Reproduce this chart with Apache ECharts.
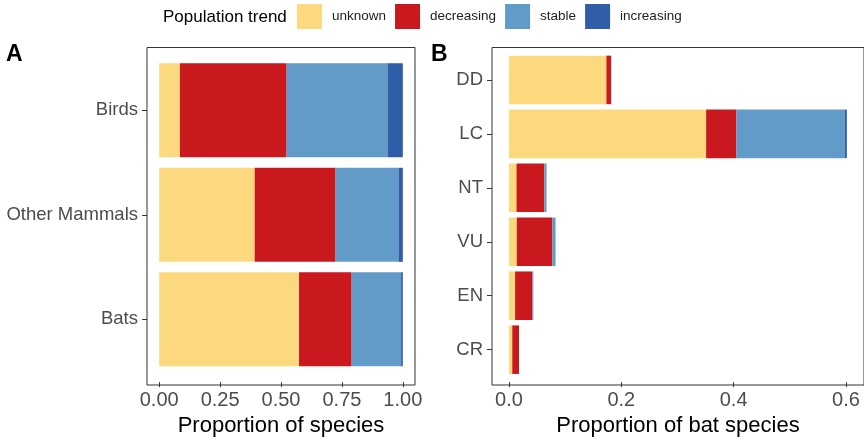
<!DOCTYPE html>
<html>
<head>
<meta charset="utf-8">
<script src="https://cdn.jsdelivr.net/npm/echarts@6/dist/echarts.min.js"></script>
<style>
  html, body { margin: 0; padding: 0; background: #fff; }
  #main { width: 864px; height: 442px; }
</style>
</head>
<body>
<div id="main"></div>
<script>
// trend classes, in stacking order
const trends = ['unknown', 'decreasing', 'stable', 'increasing'];
const trendColors = ['#FCD97F', '#C9191E', '#639BC8', '#305DA7'];

// panel A: proportion of species by group
const groups = ['Birds', 'Other Mammals', 'Bats'];
const groupUnknown    = [0.085, 0.392, 0.574];
const groupDecreasing = [0.438, 0.332, 0.216];
const groupStable     = [0.414, 0.258, 0.203];
const groupIncreasing = [0.063, 0.018, 0.007];
const ticksA = [0, 0.25, 0.5, 0.75, 1];

// panel B: proportion of bat species by IUCN category
const redList = ['DD', 'LC', 'NT', 'VU', 'EN', 'CR'];
const batUnknown    = [0.1735, 0.351, 0.0135, 0.014, 0.011, 0.006];
const batDecreasing = [0.0085, 0.054, 0.0495, 0.063, 0.031, 0.012];
const batStable     = [0, 0.193, 0.004, 0.006, 0.0015, 0];
const batIncreasing = [0, 0.0035, 0, 0, 0, 0];
const ticksB = [0, 0.2, 0.4, 0.6];

const font = 'Liberation Sans, Arial, sans-serif';
const valsA = [groupUnknown, groupDecreasing, groupStable, groupIncreasing];
const valsB = [batUnknown, batDecreasing, batStable, batIncreasing];

// ggplot pads a discrete axis by 0.6 of a category on each side,
// echarts by 0.5, so the data grid sits a little inside the frame
const panelTop = 47.5, panelH = 337.5;
function padOf(n) { return panelH / (n - 1 + 1.2) * 0.1; }
const padA = padOf(groups.length), padB = padOf(redList.length);

function xAxis(idx, min, max, ticks, digits, name, pad) {
  return {
    type: 'value', gridIndex: idx, min: min, max: max, offset: pad,
    splitLine: { show: false },
    axisLine: { show: false },
    axisTick: { show: true, length: 5, customValues: ticks, lineStyle: { color: '#333' } },
    axisLabel: {
      customValues: ticks, fontSize: 20, color: '#4d4d4d', fontFamily: font, margin: 8,
      formatter: v => v.toFixed(digits)
    },
    name: name, nameLocation: 'middle', nameGap: 30,
    nameTextStyle: { fontSize: 22, color: '#000', fontFamily: font }
  };
}

function yAxis(idx, cats) {
  return {
    type: 'category', gridIndex: idx, data: cats, inverse: true,
    axisLine: { show: false, onZero: false },
    axisTick: { show: true, length: 5, alignWithLabel: true, lineStyle: { color: '#333' } },
    axisLabel: { fontSize: 18.5, color: '#4d4d4d', fontFamily: font, margin: 9 }
  };
}

const series = [];
trends.forEach((t, i) => {
  series.push({
    name: t, type: 'bar', stack: 'A', xAxisIndex: 0, yAxisIndex: 0,
    barCategoryGap: '10%', itemStyle: { color: trendColors[i] },
    data: valsA[i]
  });
});
trends.forEach((t, i) => {
  series.push({
    name: t, type: 'bar', stack: 'B', xAxisIndex: 1, yAxisIndex: 1,
    barCategoryGap: '10%', itemStyle: { color: trendColors[i] },
    data: valsB[i]
  });
});

const frame = { show: true, borderColor: '#333', borderWidth: 1, backgroundColor: 'transparent' };

const chart = echarts.init(document.getElementById('main'));
chart.setOption({
  backgroundColor: '#fff',
  animation: false,
  textStyle: { fontFamily: font },
  legend: {
    data: trends, left: 297, top: 4, padding: 0,
    icon: 'rect', itemWidth: 25, itemHeight: 25, itemGap: 9,
    textStyle: { fontSize: 13.5, color: '#222', fontFamily: font, padding: [0, 0, 0, 5] }
  },
  grid: [
    { left: 147, top: panelTop + padA, width: 268, height: panelH - 2 * padA },
    { left: 492, top: panelTop + padB, width: 374, height: panelH - 2 * padB },
    Object.assign({ left: 147, top: panelTop, width: 268, height: panelH }, frame),
    Object.assign({ left: 492, top: panelTop, width: 374, height: panelH }, frame)
  ],
  xAxis: [
    xAxis(0, -0.05, 1.05, ticksA, 2, 'Proportion of species', padA),
    xAxis(1, -0.0301, 0.632, ticksB, 1, 'Proportion of bat species', padB),
    { type: 'value', gridIndex: 2, show: false },
    { type: 'value', gridIndex: 3, show: false }
  ],
  yAxis: [
    yAxis(0, groups),
    yAxis(1, redList),
    { type: 'value', gridIndex: 2, show: false },
    { type: 'value', gridIndex: 3, show: false }
  ],
  graphic: [
    { type: 'text', x: 163, y: 17, style: { text: 'Population trend', font: '17px ' + font, fill: '#000', verticalAlign: 'middle' } },
    { type: 'text', x: 6, y: 55, style: { text: 'A', font: 'bold 23px ' + font, fill: '#000', verticalAlign: 'middle' } },
    { type: 'text', x: 431, y: 55, style: { text: 'B', font: 'bold 23px ' + font, fill: '#000', verticalAlign: 'middle' } }
  ],
  series: series
});
</script>
</body>
</html>
